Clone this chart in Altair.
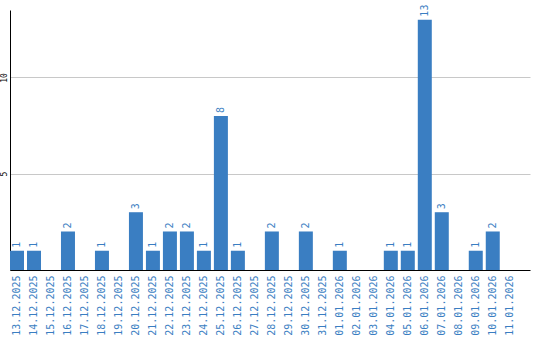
import altair as alt
import pandas as pd

dates = ["13.12.2025","14.12.2025","15.12.2025","16.12.2025","17.12.2025","18.12.2025",
         "19.12.2025","20.12.2025","21.12.2025","22.12.2025","23.12.2025","24.12.2025",
         "25.12.2025","26.12.2025","27.12.2025","28.12.2025","29.12.2025","30.12.2025",
         "31.12.2025","01.01.2026","02.01.2026","03.01.2026","04.01.2026","05.01.2026",
         "06.01.2026","07.01.2026","08.01.2026","09.01.2026","10.01.2026","11.01.2026"]
values = [1,1,0,2,0,1,0,3,1,2,2,1,8,1,0,2,0,2,0,1,0,0,1,1,13,3,0,1,2,0]

df = pd.DataFrame({"date": dates, "value": values})
df["label"] = df["value"].apply(lambda v: str(v) if v > 0 else "")

blue = "#3a7ec2"
font = "DejaVu Sans Mono"

xscale = alt.Scale(paddingInner=0.176, paddingOuter=0.39, align=0)
x = alt.X("date:N", sort=dates, title=None, scale=xscale,
          axis=alt.Axis(labelAngle=-90, labelAlign="right", labelBaseline="middle",
                        labelColor=blue, labelFont=font, labelFontSize=10,
                        ticks=False, domainColor="black", labelPadding=5))
y = alt.Y("value:Q", title=None,
          scale=alt.Scale(domain=[0, 13.5], nice=False),
          axis=alt.Axis(values=[5, 10], labelAngle=-90, labelAlign="center",
                        labelBaseline="bottom", labelFont=font, labelFontSize=8,
                        labelColor="black", ticks=False, domainColor="black",
                        gridColor="#c8c8c8", labelPadding=2))

bars = alt.Chart(df).mark_bar(color=blue).encode(x=x, y=y)
text = alt.Chart(df).mark_text(angle=270, align="left", baseline="middle", dx=3,
                               color=blue, font=font, fontSize=10).encode(
    x=alt.X("date:N", sort=dates, scale=xscale), y="value:Q", text="label:N")

chart = (bars + text).properties(
    width=520, height=260,
    padding={"left": 10, "top": 10, "right": 10, "bottom": 70},
    autosize=alt.AutoSizeParams(type="none"),
).configure_view(stroke=None).configure_axisX(grid=False)

chart.save("out.html", embed_options={"renderer": "svg", "actions": False})
